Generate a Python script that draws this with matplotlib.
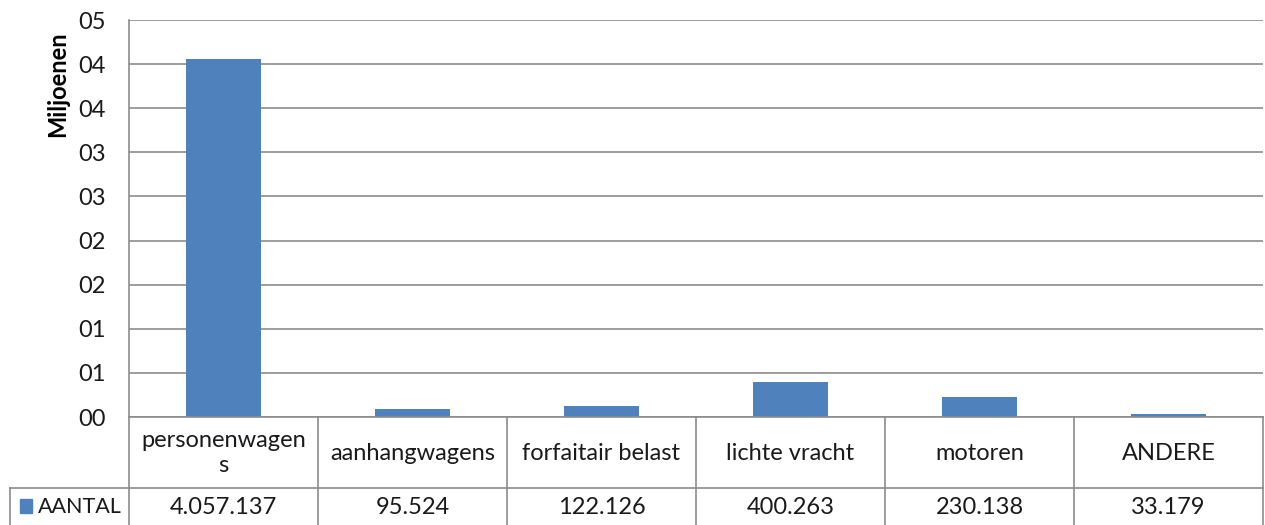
import matplotlib
matplotlib.use("Agg")
import matplotlib.pyplot as plt
from matplotlib.lines import Line2D
from matplotlib.transforms import blended_transform_factory

categories = ["personenwagen\ns", "aanhangwagens", "forfaitair belast",
              "lichte vracht", "motoren", "ANDERE"]
values = [4057137, 95524, 122126, 400263, 230138, 33179]
value_labels = ["4.057.137", "95.524", "122.126", "400.263", "230.138", "33.179"]
series_name = "AANTAL"
y_ticks = [0, 0.5, 1.0, 1.5, 2.0, 2.5, 3.0, 3.5, 4.0, 4.5]
y_tick_labels = ["00", "01", "01", "02", "02", "03", "03", "04", "04", "05"]
y_title = "Miljoenen"

W, H = 1265, 525
plt.rcParams['font.family'] = ['Lato', 'DejaVu Sans']
fig = plt.figure(figsize=(W / 100, H / 100), dpi=100)

left, right, top, bottom = 129, 1263, 20, 417
ax = fig.add_axes([left / W, 1 - bottom / H, (right - left) / W, (bottom - top) / H])

bar_color = "#4F81BD"
grid_color = "#8C8C8C"
text_color = "#1A1A1A"
fs = 17

x = list(range(len(categories)))
ax.bar(x, [v / 1e6 for v in values], width=0.40, color=bar_color, zorder=3)
ax.set_xlim(-0.5, len(categories) - 0.5)
ax.set_ylim(0, 4.5)
ax.set_yticks(y_ticks)
ax.set_yticklabels(y_tick_labels, fontsize=fs, color=text_color)
ax.set_xticks([])
ax.tick_params(axis='y', length=0, pad=16.5)
ax.grid(axis='y', color=grid_color, linewidth=1.2, zorder=0)
for s in ["top", "right", "bottom"]:
    ax.spines[s].set_visible(False)
ax.spines["left"].set_color(grid_color)
ax.spines["left"].set_linewidth(1.2)
ax.set_ylabel(y_title, fontsize=17, fontweight='bold', color='black')
ax.yaxis.set_label_coords(-(129 - 69) / (right - left), (417 - 84) / (417 - 20))

# data table below the axes
tr = blended_transform_factory(ax.transData, fig.transFigure)
fy = lambda py: 1 - py / H
fx = lambda px: px / W

def line(xs, ys, transform):
    fig.add_artist(Line2D(xs, ys, transform=transform, color=grid_color,
                          linewidth=1.2, clip_on=False))

header_top, header_bot, data_bot = 417, 488, 540
n = len(categories)
for i in range(n + 1):
    xb = i - 0.5
    line([xb, xb], [fy(header_top), fy(data_bot)], tr)
line([-0.5, n - 0.5], [fy(header_top), fy(header_top)], tr)
line([fx(10), fx(right)], [fy(header_bot), fy(header_bot)], fig.transFigure)
line([fx(10), fx(10)], [fy(header_bot), fy(data_bot)], fig.transFigure)

for i, (c, v) in enumerate(zip(categories, value_labels)):
    fig.text(i, fy(453), c, transform=tr, ha='center', va='center',
             fontsize=fs, color=text_color, linespacing=1.25)
    fig.text(i, fy(507), v, transform=tr, ha='center', va='center',
             fontsize=fs, color=text_color)

fig.add_artist(plt.Rectangle((fx(20), fy(513)), 12 / W, 14 / H,
                             transform=fig.transFigure, color=bar_color))
fig.text(fx(38), fy(507), series_name, ha='left', va='center',
         fontsize=15.5, color=text_color)

fig.savefig("out.png", dpi=100)
